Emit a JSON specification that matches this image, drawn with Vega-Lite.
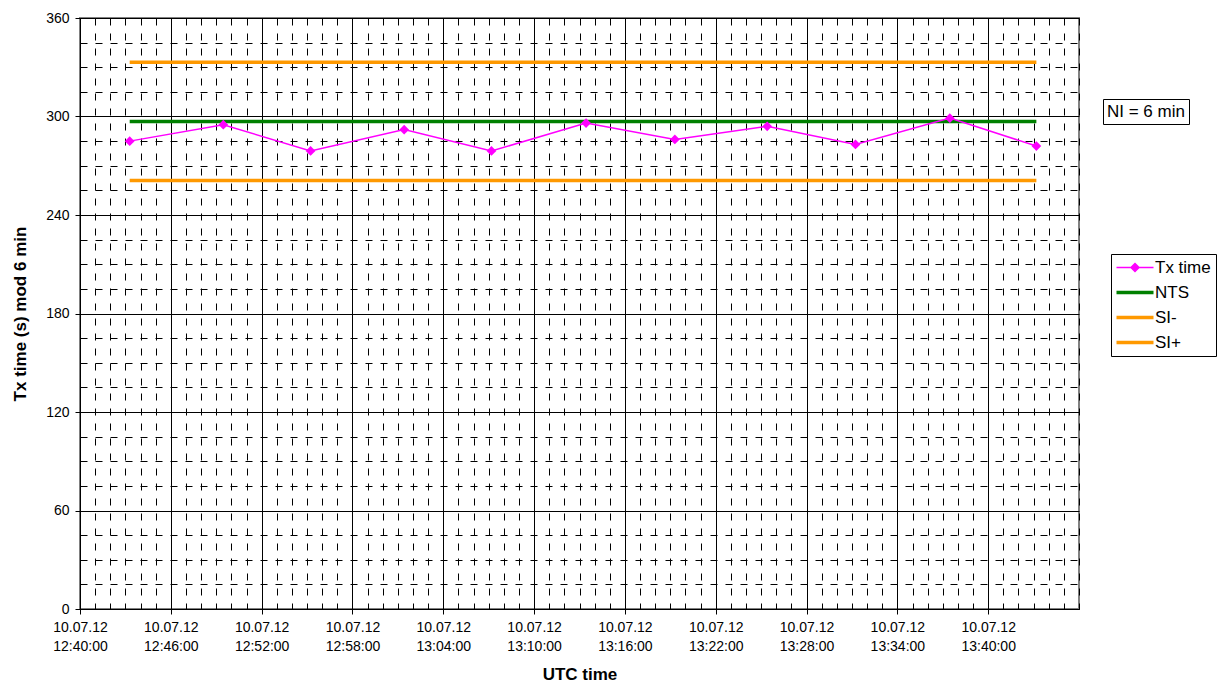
{
  "$schema": "https://vega.github.io/schema/vega-lite/v6.json",
  "width": 999,
  "height": 591,
  "autosize": {"type": "none"},
  "padding": {"left": 80, "top": 18, "right": 146, "bottom": 75},
  "background": "white",
  "config": {
    "font": "Liberation Sans",
    "view": {"stroke": "#808080", "strokeWidth": 2, "fill": "#FFFFCC"},
    "axis": {"labelColor": "black", "titleColor": "black", "domainColor": "black", "tickColor": "black", "labelFont": "Liberation Sans", "titleFont": "Liberation Sans"}
  },
  "data": {
    "values": [
      {"series": "Tx time", "time": "2012-07-10T12:43:17Z", "value": 285},
      {"series": "Tx time", "time": "2012-07-10T12:49:28Z", "value": 295},
      {"series": "Tx time", "time": "2012-07-10T12:55:14Z", "value": 279},
      {"series": "Tx time", "time": "2012-07-10T13:01:25Z", "value": 292},
      {"series": "Tx time", "time": "2012-07-10T13:07:11Z", "value": 279},
      {"series": "Tx time", "time": "2012-07-10T13:13:26Z", "value": 296},
      {"series": "Tx time", "time": "2012-07-10T13:19:18Z", "value": 286},
      {"series": "Tx time", "time": "2012-07-10T13:25:24Z", "value": 294},
      {"series": "Tx time", "time": "2012-07-10T13:31:14Z", "value": 283},
      {"series": "Tx time", "time": "2012-07-10T13:37:28Z", "value": 299},
      {"series": "Tx time", "time": "2012-07-10T13:43:11Z", "value": 282},
      {"series": "NTS", "time": "2012-07-10T12:43:17Z", "value": 297},
      {"series": "NTS", "time": "2012-07-10T13:43:11Z", "value": 297},
      {"series": "SI-", "time": "2012-07-10T12:43:17Z", "value": 261},
      {"series": "SI-", "time": "2012-07-10T13:43:11Z", "value": 261},
      {"series": "SI+", "time": "2012-07-10T12:43:17Z", "value": 333},
      {"series": "SI+", "time": "2012-07-10T13:43:11Z", "value": 333}
    ]
  },
  "resolve": {"axis": {"x": "independent", "y": "independent"}},
  "layer": [
    {
      "transform": [{"filter": "datum.series !== 'Tx time'"}],
      "mark": {"type": "line", "strokeWidth": 3.5},
      "encoding": {
        "x": {
          "field": "time", "type": "temporal",
          "scale": {"type": "utc", "domain": [1341924000000, 1341927960000]},
          "axis": {"orient": "bottom", "grid": true, "gridColor": "black", "gridDash": [7, 8], "gridWidth": 1, "tickCount": 66, "labels": false, "ticks": false, "domain": false, "title": null}
        },
        "y": {
          "field": "value", "type": "quantitative",
          "scale": {"domain": [0, 360], "nice": false, "zero": true},
          "axis": {"orient": "left", "grid": true, "gridColor": "black", "gridDash": [7, 8], "gridWidth": 1, "values": [15, 30, 45, 75, 90, 105, 135, 150, 165, 195, 210, 225, 255, 270, 285, 315, 330, 345], "labels": false, "ticks": false, "domain": false, "title": null}
        },
        "detail": {"field": "series", "type": "nominal"},
        "color": {
          "field": "series", "type": "nominal",
          "scale": {"domain": ["Tx time", "NTS", "SI-", "SI+"], "range": ["#FF00FF", "#008000", "#FF9900", "#FF9900"]},
          "legend": {
            "title": null, "orient": "none", "legendX": 1031, "legendY": 236,
            "strokeColor": "black", "fillColor": "white", "padding": 5,
            "labelFontSize": 17, "labelColor": "black", "labelOffset": 22,
            "symbolSize": 100, "rowPadding": 7,
            "encode": {"symbols": {"update": {
              "shape": {"signal": "datum.value === 'Tx time' ? 'M-1.6,0L5.8,0M2.1,-0.8L2.9,0L2.1,0.8L1.3,0Z' : 'M-1.6,0L5.8,0'"},
              "stroke": {"scale": "color", "field": "value"},
              "fill": {"scale": "color", "field": "value"},
              "strokeWidth": {"signal": "datum.value === 'Tx time' ? 1.5 : 3.5"},
              "opacity": {"value": 1},
              "size": {"value": 100}
            }}}
          }
        }
      }
    },
    {
      "transform": [{"filter": "datum.series === 'Tx time'"}],
      "mark": {"type": "line", "strokeWidth": 1.5},
      "encoding": {
        "x": {
          "field": "time", "type": "temporal",
          "axis": {
            "orient": "bottom", "grid": true, "gridColor": "black", "gridWidth": 1,
            "values": [1341924000000, 1341924360000, 1341924720000, 1341925080000, 1341925440000, 1341925800000, 1341926160000, 1341926520000, 1341926880000, 1341927240000, 1341927600000],
            "labelExpr": "[utcFormat(datum.value, '%d.%m.%y'), utcFormat(datum.value, '%H:%M:%S')]",
            "labelFontSize": 14, "labelLineHeight": 19, "labelPadding": 6, "labelAngle": 0, "labelAlign": "center", "labelBaseline": "top",
            "labelOverlap": false, "labelBound": false, "labelFlush": false,
            "tickSize": 5, "domainWidth": 1,
            "title": "UTC time", "titleFontSize": 17, "titleFontWeight": "bold", "titlePadding": 13
          }
        },
        "y": {
          "field": "value", "type": "quantitative",
          "axis": {
            "orient": "left", "grid": true, "gridColor": "black", "gridWidth": 1,
            "values": [0, 60, 120, 180, 240, 300, 360],
            "labelFontSize": 14, "labelPadding": 6, "tickSize": 5, "domainWidth": 1,
            "labelOverlap": false, "labelBound": false, "labelFlush": false,
            "title": "Tx time (s) mod 6 min", "titleFontSize": 17, "titleFontWeight": "bold", "titlePadding": 16
          }
        },
        "color": {
          "field": "series", "type": "nominal",
          "scale": {"domain": ["Tx time", "NTS", "SI-", "SI+"], "range": ["#FF00FF", "#008000", "#FF9900", "#FF9900"]}
        }
      }
    },
    {
      "transform": [{"filter": "datum.series === 'Tx time'"}],
      "mark": {"type": "point", "shape": "diamond", "filled": true, "size": 95, "opacity": 1, "color": "#FF00FF"},
      "encoding": {
        "x": {"field": "time", "type": "temporal", "axis": null},
        "y": {"field": "value", "type": "quantitative", "axis": null}
      }
    },
    {
      "data": {"values": [{"note": "NI = 6 min"}]},
      "mark": {"type": "point", "size": 0, "opacity": 0},
      "encoding": {
        "shape": {
          "field": "note", "type": "nominal",
          "scale": {"range": ["circle"]},
          "legend": {
            "title": null, "orient": "none", "legendX": 1023, "legendY": 81,
            "strokeColor": "black", "fillColor": "white", "padding": 4,
            "labelFontSize": 17, "labelColor": "black", "labelOffset": -17,
            "symbolSize": 0, "symbolOpacity": 0, "symbolStrokeWidth": 0
          }
        }
      }
    }
  ]
}
